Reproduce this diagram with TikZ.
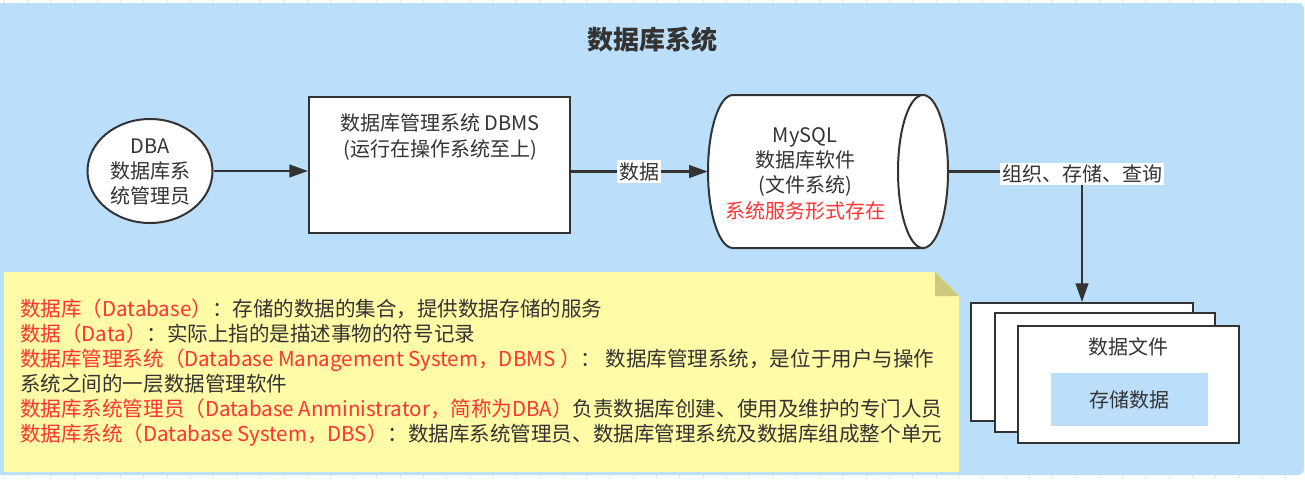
\documentclass[tikz,border=0pt]{standalone}
\usepackage{fontspec}
\setmainfont{Noto Sans CJK SC}
\usetikzlibrary{arrows.meta,shapes.geometric}
\definecolor{panelblue}{RGB}{187,222,251}
\definecolor{innerblue}{RGB}{187,222,251}
\definecolor{noteyellow}{RGB}{255,251,166}
\definecolor{notefold}{RGB}{206,200,122}
\definecolor{textgray}{RGB}{51,51,51}
\definecolor{linegray}{RGB}{51,51,51}
\definecolor{redtext}{RGB}{255,51,51}
\definecolor{gridgray}{RGB}{232,232,232}
\tikzset{
  txt/.style={text=textgray, font=\fontsize{15}{19}\selectfont, align=center, inner sep=0pt},
  boxw/.style={draw=linegray, line width=1.5pt, fill=white, inner sep=0pt},
  conn/.style={draw=linegray, line width=1.6pt},
  arr/.style={conn, -{Triangle[length=14pt,width=9.5pt]}},
  lbl/.style={fill=white, text=textgray, font=\fontsize{15}{19}\selectfont, inner sep=1.5pt},
  noteline/.style={anchor=base west, text=textgray, font=\fontsize{15.4}{19}\selectfont, inner sep=0pt},
}
\begin{document}
\begin{tikzpicture}[x=0.75pt,y=-0.75pt]
\useasboundingbox (0,0) rectangle (1305,479);
\fill[white] (0,0) rectangle (1305,479);
\foreach \i in {0,...,56} { \draw[gridgray, line width=0.6pt] ({4+23.3*\i},0) -- ({4+23.3*\i},479); }
% panel
\fill[panelblue, rounded corners=4.5pt] (-3,3) rectangle (1304,475);
% title
\node[text=textgray, font=\fontsize{19.5}{19.5}\selectfont\bfseries, inner sep=0pt] (title) at (652,40) {数据库系统};
% DBA ellipse
\node[boxw, ellipse, minimum width=93.75pt, minimum height=78pt] (dba) at (150,171) {};
\node[txt] (dbatext) at (150,172) {DBA\\数据库系\\统管理员};
% DBMS
\node[boxw, rectangle, minimum width=195.75pt, minimum height=102pt] (dbms) at (439.5,165) {};
\node[txt] (dbmstext) at (440,137) {数据库管理系统 DBMS\\(运行在操作系统至上)};
% cylinder
\node[minimum width=180pt, minimum height=114.75pt, inner sep=0pt] (cyl) at (828,171.5) {};
\filldraw[boxw] (923,95) -- (733,95)
  .. controls (719.2,95) and (708,129.25) .. (708,171.5)
  .. controls (708,213.75) and (719.2,248) .. (733,248)
  -- (923,248) -- cycle;
\node[boxw, ellipse, minimum width=37.5pt, minimum height=114.75pt] (cylface) at (923,171.5) {};
\node[txt] (cyltext) at (805,173.5) {MySQL\\数据库软件\\(文件系统)\\\textcolor{redtext}{系统服务形式存在}};
% note
\fill[noteyellow] (4,272) -- (935,272) -- (959,296) -- (959,472) -- (4,472) -- cycle;
\fill[notefold] (935,272) -- (935,296) -- (959,296) -- cycle;
\node[noteline] (n1) at (20,316) {\textcolor{redtext}{数据库（Database）}：存储的数据的集合，提供数据存储的服务};
\node[noteline] (n2) at (20,341) {\textcolor{redtext}{数据（Data）}：实际上指的是描述事物的符号记录};
\node[noteline] (n3) at (20,366) {\textcolor{redtext}{数据库管理系统（Database Management System，DBMS ）}： 数据库管理系统，是位于用户与操作};
\node[noteline] (n4) at (20,391) {系统之间的一层数据管理软件};
\node[noteline] (n5) at (20,416) {\textcolor{redtext}{数据库系统管理员（Database Anministrator，简称为DBA）}负责数据库创建、使用及维护的专门人员};
\node[noteline] (n6) at (20,441) {\textcolor{redtext}{数据库系统（Database System，DBS）}：数据库系统管理员、数据库管理系统及数据库组成整个单元};
% files
\node[boxw, rectangle, minimum width=166.5pt, minimum height=88.5pt] (file1) at (1082,362) {};
\node[boxw, rectangle, minimum width=165pt, minimum height=89.25pt] (file2) at (1105,372.5) {};
\node[boxw, rectangle, minimum width=165.75pt, minimum height=87.75pt] (file3) at (1128.5,384.5) {};
\node[txt] (filetitle) at (1128,347) {数据文件};
\node[fill=innerblue, minimum width=117.75pt, minimum height=39.75pt, inner sep=0pt, txt] (store) at (1129.5,399.5) {存储数据};
% connectors
\draw[arr] (dba.east) -- (dba.east -| dbms.west);
\draw[arr] (dbms.east |- cyl.west) -- node[lbl] (lbldata) {数据} (cyl.west);
\draw[arr] (cylface.east) -| node[lbl, pos=0.5, yshift=-2pt] (lblorg) {组织、存储、查询} (file1.north);
\end{tikzpicture}
\end{document}
